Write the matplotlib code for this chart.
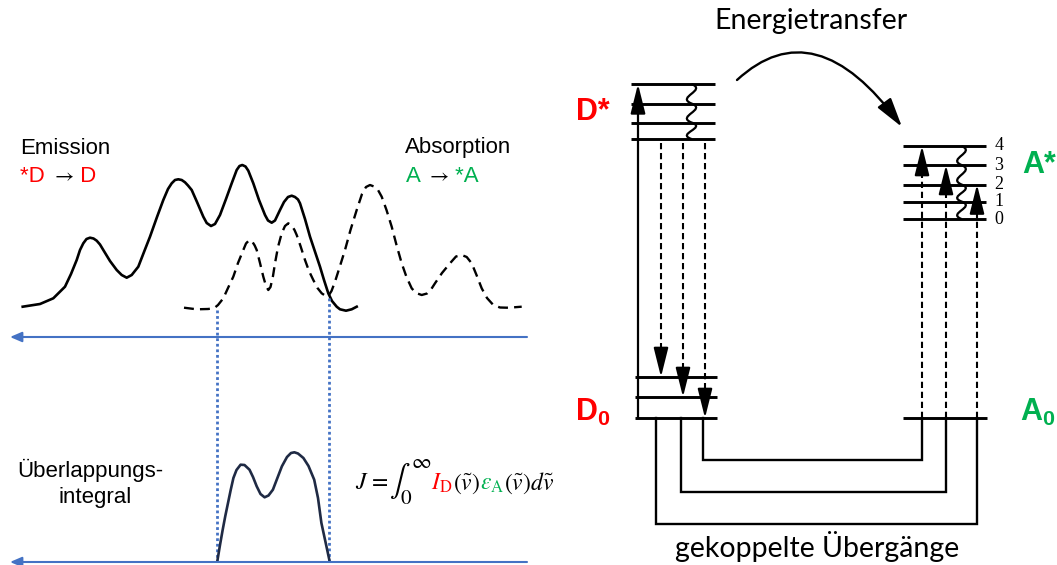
"""
FRET sketch: donor emission / acceptor absorption overlap (left)
and coupled transitions between donor and acceptor levels (right).
Everything is drawn in pixel coordinates of a 1057x565 canvas.
"""

import matplotlib
matplotlib.use("Agg")
import matplotlib.pyplot as plt
from matplotlib.offsetbox import TextArea, HPacker, AnnotationBbox
from matplotlib.patches import FancyArrowPatch, PathPatch
from matplotlib.path import Path

# ── Colours ────────────────────────────────────────────────────────────────
RED   = "#FF0000"
GREEN = "#00B050"
BLUE  = "#4472C4"
NAVY  = "#1F2A44"

# ── Spectra (pixel coords) ────────────────────────────────────────────────
emission_x = [22.7, 40, 53.3, 65, 71, 76.7, 80, 83.3, 86.5, 90, 93.5, 96.7,
              100, 103.3, 110, 116.7, 121.7, 126.7, 131.7, 138.3, 144, 150,
              157, 163.3, 168, 171.7, 175, 178.3, 181.7, 185, 188, 191.7, 197,
              203.3, 206.7, 211, 215, 220, 226, 231.7, 236.7, 239.5, 242.3,
              245.5, 248.3, 253.3, 259, 265, 268, 271.7, 275, 280, 284, 288,
              291.7, 295, 298, 300, 305, 310, 320, 324, 328.3, 332, 336.7,
              340, 346, 351.7, 356.7]
emission_y = [306.7, 304, 298.3, 286.7, 274, 260, 250, 243.3, 239, 237.7,
              238.5, 240.7, 244.5, 250, 261, 270, 275, 277.7, 275, 266.7, 252,
              236.7, 217, 200, 189, 183.3, 180, 179.3, 180, 182.3, 185.5, 190,
              202, 216.7, 223, 226, 224, 215, 199, 183.3, 170, 166, 165, 166.5,
              170.7, 183.3, 200, 215, 220.5, 222.7, 220.5, 210, 202, 197,
              195.7, 197, 199.5, 203.3, 219, 236.7, 266.7, 280, 293.3, 301,
              306.7, 309.3, 310.7, 309.3, 306.7]

absorption_x = [184, 196.7, 208, 214, 218, 223.3, 228, 233.3, 238, 243.3, 246,
                249.3, 252.5, 254.7, 256.7, 260, 263.3, 266, 268.3, 270.5, 273,
                275, 278, 281.7, 285, 288.3, 292, 294.5, 296.7, 300.5, 305, 309,
                313.3, 317.5, 321.7, 325, 328.3, 331.5, 335, 340, 345, 350.5,
                356.7, 362, 366, 370, 374, 378, 381.7, 386.5, 391.7, 396.5,
                401.7, 406.5, 411.7, 416, 421.7, 427, 431, 435, 442, 450, 456,
                461.7, 466.7, 471.7, 476.5, 481.7, 487, 493.3, 500, 506.7, 514,
                521.7]
absorption_y = [307.7, 309.3, 309, 308.3, 305, 298.3, 288, 276.7, 263, 250,
                243.5, 240, 242, 245.5, 250, 263, 276.7, 286, 290, 287, 276,
                263.3, 247, 233.3, 226, 223.3, 226, 230, 235, 246, 260, 271,
                280, 288, 293.3, 295.5, 296, 291, 281.7, 266, 250, 230, 210,
                194, 187, 185, 186.5, 190, 196.7, 210, 226.7, 245, 263.3, 277,
                288.3, 293, 295, 293.5, 289.5, 283.3, 273, 263.3, 256.5, 255,
                257, 263.3, 275, 288.3, 298, 305, 307.5, 307.7, 307.3, 306.7]

overlap_x = [217.3, 220, 222.7, 225.3, 228, 230.7, 233.4, 236.5, 240.6, 244.5,
             249.5, 253, 256.7, 260.5, 264.6, 268.5, 272.9, 277, 281.9, 287,
             291, 294.4, 298, 303.4, 308.5, 314.2, 318, 321.4, 325.5, 329.3]
overlap_y = [561.3, 545, 529.7, 516, 503, 490, 478, 470, 464.7, 465, 469.7,
             477, 486.3, 494, 497.3, 495.5, 489.7, 479, 466.3, 457, 453, 452.3,
             453.5, 458, 466, 479.7, 498, 523, 542, 559.7]

overlap_bounds = [217.3, 329.3]          # dotted guide lines
overlap_tops   = [310, 298]              # where the guides start
axis_y         = [337, 562]              # the two wavenumber axes

# ── Level scheme (pixel coords) ───────────────────────────────────────────
donor_excited  = [84, 103.5, 122.5, 139]
donor_ground   = [377, 397, 418]
acceptor_exc   = [146, 165, 184.5, 201.5, 219]     # v = 4 ... 0
acceptor_lbls  = ["4", "3", "2", "1", "0"]
acceptor_ground = 418

emis_arrow_x   = [661, 683, 705]        # targets: donor_ground levels
absn_arrow_x   = [922, 946, 977]        # targets: acceptor v = 4, 3, 2
conn_donor_x   = [703, 681, 656]
conn_accept_x  = [922, 946, 977]
conn_bottom_y  = [460, 492, 524]

# ── Canvas ────────────────────────────────────────────────────────────────
plt.rcParams.update({
    "font.family": "Liberation Sans",
    "mathtext.fontset": "custom",
    "mathtext.rm": "Liberation Sans",
    "mathtext.bf": "Liberation Sans:bold",
    "mathtext.it": "Liberation Sans:italic",
})

fig = plt.figure(figsize=(10.57, 5.65), dpi=100)
ax = fig.add_axes([0, 0, 1, 1])
ax.set_xlim(0, 1057)
ax.set_ylim(565, 0)
ax.axis("off")


def arrow(x0, y0, x1, y1, lw=1.5, hl=1.8, hw=0.45, color="k", ms=10):
    ax.annotate("", xy=(x1, y1), xytext=(x0, y0),
                arrowprops=dict(arrowstyle=f"-|>,head_length={hl},head_width={hw}",
                                mutation_scale=ms, lw=lw, color=color,
                                shrinkA=0, shrinkB=0))


def colored(x, y, parts, align=(0, 0.5)):
    boxes = [TextArea(s, textprops=p) for s, p in parts]
    pack = HPacker(children=boxes, align="baseline", pad=0, sep=0)
    ax.add_artist(AnnotationBbox(pack, (x, y), xycoords="data",
                                 box_alignment=align, frameon=False, pad=0))


def squiggle(x, levels, c=16):
    verts, codes = [(x, levels[0])], [Path.MOVETO]
    for y0, y1 in zip(levels[:-1], levels[1:]):
        h = y1 - y0
        verts += [(x + c, y0 + h / 3), (x - c, y0 + 2 * h / 3), (x, y1)]
        codes += [Path.CURVE4] * 3
    ax.add_patch(PathPatch(Path(verts, codes), fill=False, lw=1.6, color="k"))


# ── Left: spectra ─────────────────────────────────────────────────────────
ax.plot(emission_x, emission_y, color="k", lw=1.9, solid_joinstyle="round")
ax.plot(absorption_x, absorption_y, color="k", lw=1.7,
        linestyle=(0, (4.2, 2.6)))

for ya in axis_y:
    arrow(527, ya, 10, ya, lw=1.5, hl=0.7, hw=0.3, color=BLUE)

for xb, yt in zip(overlap_bounds, overlap_tops):
    ax.plot([xb, xb], [yt, axis_y[1]], color=BLUE, lw=2.0,
            linestyle=(0, (1, 1)))

ax.plot(overlap_x, overlap_y, color=NAVY, lw=1.9, solid_joinstyle="round")

ax.text(20, 148, "Emission", fontsize=16, va="center")
ax.text(405, 148, "Absorption", fontsize=16, va="center")
colored(20, 176, [("*D ", dict(color=RED, fontsize=16)),
                  (r"$\rightarrow$", dict(color="k", fontsize=15, math_fontfamily="stix")),
                  (" D", dict(color=RED, fontsize=16))])
colored(406, 176, [("A ", dict(color=GREEN, fontsize=16)),
                   (r"$\rightarrow$", dict(color="k", fontsize=15, math_fontfamily="stix")),
                   (" *A", dict(color=GREEN, fontsize=16))])

ax.text(90, 470, "Überlappungs-", fontsize=16, ha="center", va="center")
ax.text(95, 497, "integral", fontsize=16, ha="center", va="center")

mp = dict(math_fontfamily="stix", fontsize=17)
colored(355, 482, [(r"$J\,=\,$", dict(color="k", **mp)),
                   (r"$\int_{0}^{\infty}$", dict(color="k", math_fontfamily="stix", fontsize=22)),
                   (r"$I_{\mathrm{D}}$", dict(color=RED, **mp)),
                   (r"$(\tilde{v})$", dict(color="k", **mp)),
                   (r"$\varepsilon_{\mathrm{A}}$", dict(color=GREEN, **mp)),
                   (r"$(\tilde{v})d\tilde{v}$", dict(color="k", **mp))])

# ── Right: donor levels ───────────────────────────────────────────────────
for y in donor_excited:
    ax.plot([631, 715], [y, y], color="k", lw=2.1, solid_capstyle="butt")
for y in donor_ground:
    ax.plot([635, 717], [y, y], color="k", lw=2.1, solid_capstyle="butt")

ax.plot([638, 638], [donor_ground[-1], donor_excited[0] + 20], color="k", lw=1.6)
arrow(638, donor_excited[0] + 25, 638, donor_excited[0], lw=1.6)
squiggle(691.5, donor_excited)

for x, yt in zip(emis_arrow_x, donor_ground):
    ax.plot([x, x], [donor_excited[-1] + 4, yt - 22], color="k", lw=1.5,
            linestyle=(0, (3, 1.8)))
    arrow(x, yt - 25, x, yt, lw=1.5)

# ── Right: acceptor levels ────────────────────────────────────────────────
for y in acceptor_exc:
    ax.plot([903, 986], [y, y], color="k", lw=2.1, solid_capstyle="butt")
ax.plot([903, 987], [acceptor_ground] * 2, color="k", lw=2.1, solid_capstyle="butt")
for y, lbl in zip(acceptor_exc, acceptor_lbls):
    ax.text(999, y, lbl, fontsize=13, family="Liberation Serif",
            ha="center", va="center")
squiggle(961.5, acceptor_exc, c=15)

for x, yt in zip(absn_arrow_x, acceptor_exc[:3]):
    ax.plot([x, x], [acceptor_ground, yt + 22], color="k", lw=1.5,
            linestyle=(0, (3, 1.8)))
    arrow(x, yt + 25, x, yt, lw=1.5)

# coupled transitions
for xd, xa, yb in zip(conn_donor_x, conn_accept_x, conn_bottom_y):
    ax.plot([xd, xd, xa, xa], [donor_ground[-1], yb, yb, acceptor_ground],
            color="k", lw=1.7, solid_joinstyle="miter")

# energy transfer arc
arc = Path([(737, 80), (815, 8), (902, 127)],
           [Path.MOVETO, Path.CURVE3, Path.CURVE3])
ax.add_patch(FancyArrowPatch(path=arc, arrowstyle="-|>,head_length=1.8,head_width=0.5",
                             mutation_scale=10, lw=1.7, color="k"))

# labels
ax.text(593, 112, "D*", fontsize=22, fontweight="bold", color=RED,
        ha="center", va="center")
ax.text(593, 412, r"D$_{\mathbf{0}}$", fontsize=22, fontweight="bold",
        color=RED, ha="center", va="center")
ax.text(1039, 165, "A*", fontsize=22, fontweight="bold", color=GREEN,
        ha="center", va="center")
ax.text(1038, 412, r"A$_{\mathbf{0}}$", fontsize=22, fontweight="bold",
        color=GREEN, ha="center", va="center")

ax.text(811, 21, "Energietransfer", fontsize=20.5, family="Lato",
        ha="center", va="center")
ax.text(817, 547, "gekoppelte Übergänge", fontsize=20.5, family="Lato",
        ha="center", va="center")

fig.savefig("out.png", dpi=100)
